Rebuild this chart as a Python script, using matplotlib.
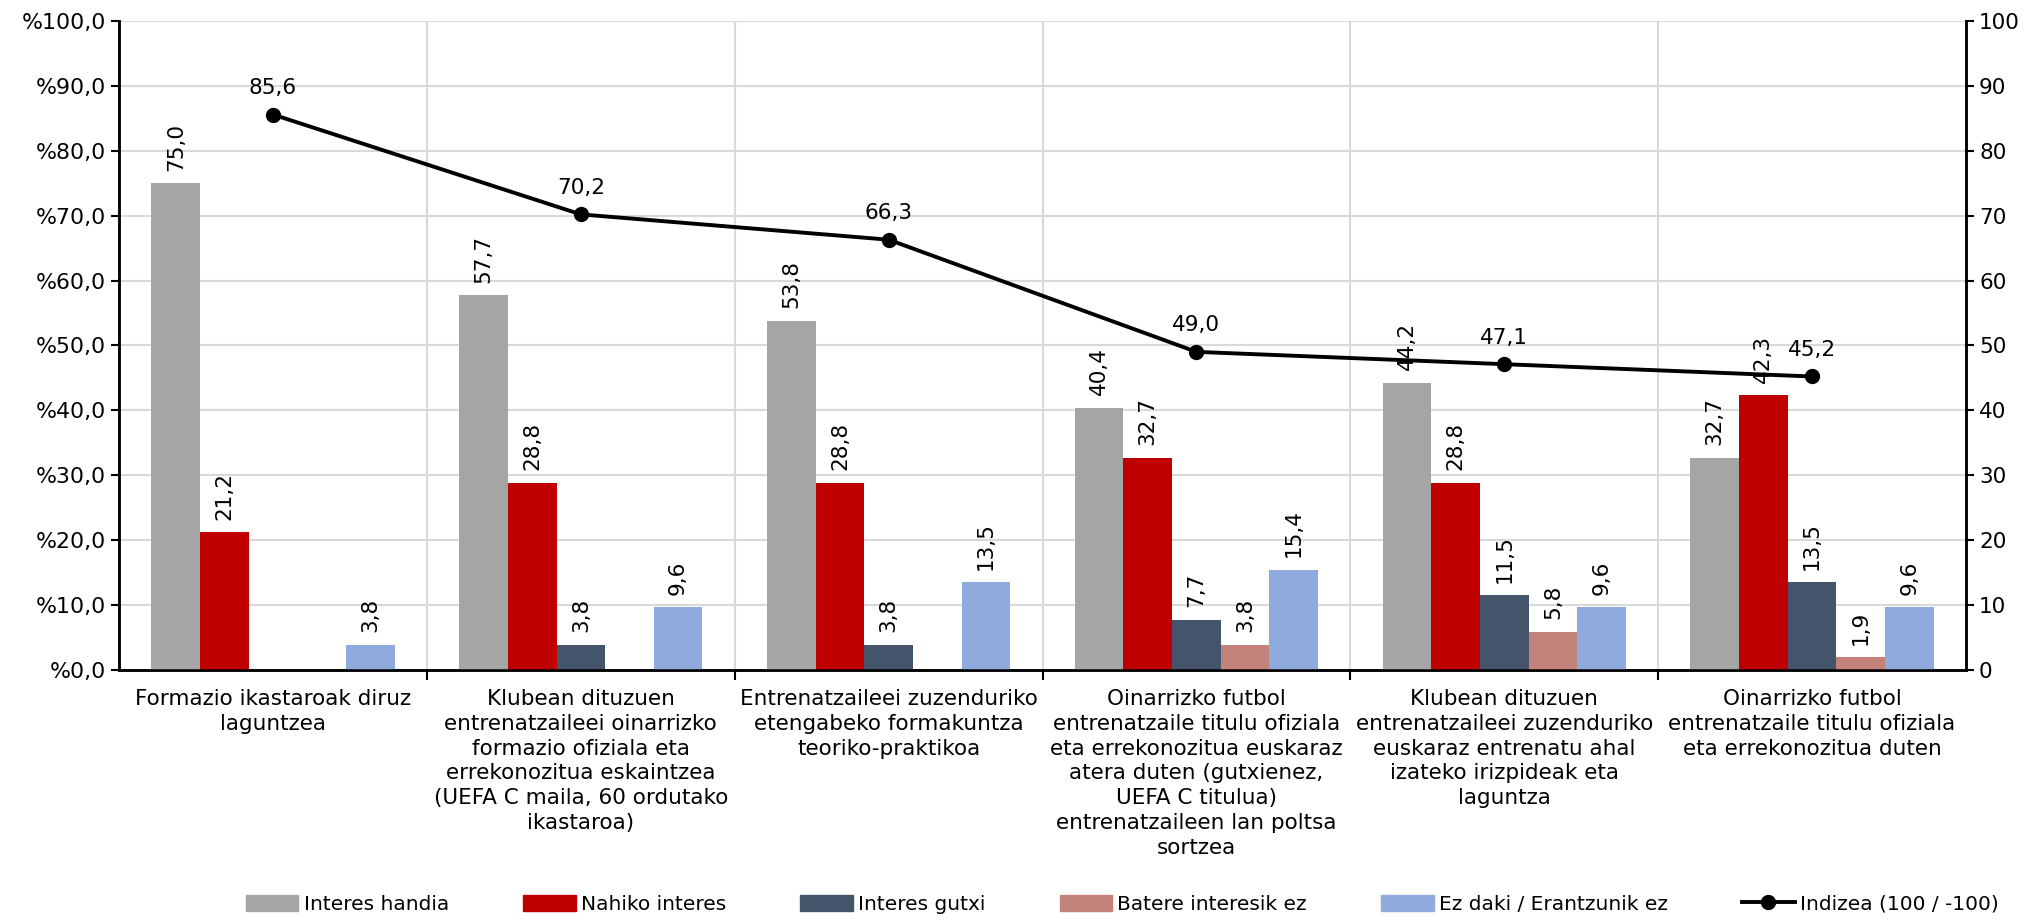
import numpy as np
import matplotlib
matplotlib.use("Agg")
import matplotlib.pyplot as plt
from matplotlib.patches import Patch
from matplotlib.lines import Line2D

plt.rcParams["font.family"] = ["DejaVu Sans"]

categories = [
    "Formazio ikastaroak diruz\nlaguntzea",
    "Klubean dituzuen\nentrenatzaileei oinarrizko\nformazio ofiziala eta\nerrekonozitua eskaintzea\n(UEFA C maila, 60 ordutako\nikastaroa)",
    "Entrenatzaileei zuzenduriko\netengabeko formakuntza\nteoriko-praktikoa",
    "Oinarrizko futbol\nentrenatzaile titulu ofiziala\neta errekonozitua euskaraz\natera duten (gutxienez,\nUEFA C titulua)\nentrenatzaileen lan poltsa\nsortzea",
    "Klubean dituzuen\nentrenatzaileei zuzenduriko\neuskaraz entrenatu ahal\nizateko irizpideak eta\nlaguntza",
    "Oinarrizko futbol\nentrenatzaile titulu ofiziala\neta errekonozitua duten",
]

series_names = ["Interes handia", "Nahiko interes", "Interes gutxi",
                "Batere interesik ez", "Ez daki / Erantzunik ez"]
interes_handia = [75.0, 57.7, 53.8, 40.4, 44.2, 32.7]
nahiko_interes = [21.2, 28.8, 28.8, 32.7, 28.8, 42.3]
interes_gutxi = [np.nan, 3.8, 3.8, 7.7, 11.5, 13.5]
batere_ez = [np.nan, np.nan, np.nan, 3.8, 5.8, 1.9]
ez_daki = [3.8, 9.6, 13.5, 15.4, 9.6, 9.6]
indizea = [85.6, 70.2, 66.3, 49.0, 47.1, 45.2]
line_name = "Indizea (100 / -100)"

colors = ["#A5A5A5", "#C00000", "#44546A", "#C4837A", "#8FAADC"]
series = [interes_handia, nahiko_interes, interes_gutxi, batere_ez, ez_daki]


def fmt(v):
    return f"{v:.1f}".replace(".", ",")


fig = plt.figure(figsize=(20.33, 9.21), dpi=100)
ax = fig.add_axes([0.0586, 0.273, 0.9084, 0.704])
ax2 = ax.twinx()

x = np.arange(len(categories))
bw = 0.158
fs = 15.5

for i, (vals, col) in enumerate(zip(series, colors)):
    pos = x + (i - 2) * bw
    ax.bar(pos, vals, width=bw, color=col, zorder=3)
    for p, v in zip(pos, vals):
        if np.isnan(v):
            continue
        ax.annotate(fmt(v), (p, v), xytext=(0, 9), textcoords="offset points",
                    rotation=90, ha="center", va="bottom", fontsize=fs)

ax2.plot(x, indizea, color="black", lw=2.8, marker="o", markersize=10, zorder=5)
for p, v in zip(x, indizea):
    ax2.annotate(fmt(v), (p, v), xytext=(0, 12), textcoords="offset points",
                 ha="center", va="bottom", fontsize=fs)

ax.set_xlim(-0.5, len(categories) - 0.5)
ax.set_ylim(0, 100)
ax2.set_ylim(0, 100)
ax.set_yticks(np.arange(0, 101, 10))
ax.set_yticklabels([f"%{v:.1f}".replace(".", ",") for v in np.arange(0, 101, 10)],
                   fontsize=15.8)
ax2.set_yticks(np.arange(0, 101, 10))
ax2.set_yticklabels([str(v) for v in range(0, 101, 10)], fontsize=15.5)

ax.set_xticks(x)
ax.set_xticklabels(categories, fontsize=15.5, va="top", linespacing=1.3)
ax.tick_params(axis="x", length=0, pad=14)
ax.set_xticks(np.arange(0.5, len(categories) - 0.5, 1), minor=True)
ax.tick_params(axis="x", which="minor", length=7, width=1.5, color="black")

ax.grid(axis="y", color="#D9D9D9", lw=1.5, zorder=0)
ax.grid(axis="x", which="minor", color="#D9D9D9", lw=1.5, zorder=0)
ax.set_axisbelow(True)

for a in (ax, ax2):
    a.spines["top"].set_visible(False)
    for s in ("left", "right", "bottom"):
        a.spines[s].set_linewidth(1.8)
        a.spines[s].set_color("black")
    a.tick_params(axis="y", length=6, width=1.5)

handles = [Patch(color=c, label=n) for c, n in zip(colors, series_names)]
handles.append(Line2D([0], [0], color="black", lw=2.8, marker="o",
                      markersize=10, label=line_name))
fig.legend(handles=handles, loc="lower center", bbox_to_anchor=(0.552, -0.012),
           ncol=6, frameon=False, fontsize=14.5, handlelength=2.6,
           handleheight=0.9, handletextpad=0.25, columnspacing=3.7)

fig.savefig("out.png", dpi=100)
